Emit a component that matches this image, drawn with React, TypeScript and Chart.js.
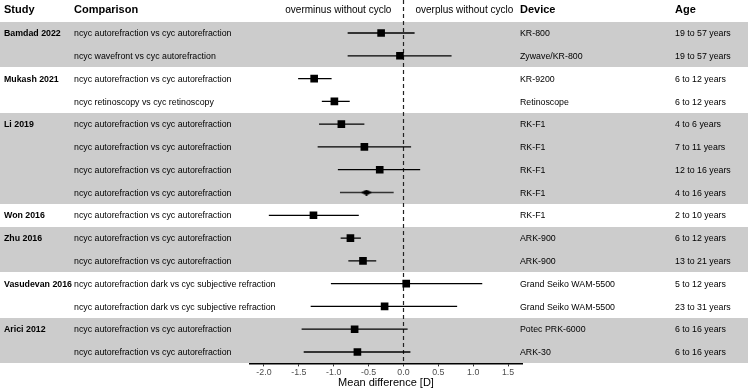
import React, { useEffect, useRef } from 'react';
import { Chart, registerables } from 'chart.js';

Chart.register(...registerables);

const studies = ['Bamdad 2022', '', 'Mukash 2021', '', 'Li 2019', '', '', '', 'Won 2016', 'Zhu 2016', '', 'Vasudevan 2016', '', 'Arici 2012', ''];
const comparisons = [
  'ncyc autorefraction vs cyc autorefraction',
  'ncyc wavefront vs cyc autorefraction',
  'ncyc autorefraction vs cyc autorefraction',
  'ncyc retinoscopy vs cyc retinoscopy',
  'ncyc autorefraction vs cyc autorefraction',
  'ncyc autorefraction vs cyc autorefraction',
  'ncyc autorefraction vs cyc autorefraction',
  'ncyc autorefraction vs cyc autorefraction',
  'ncyc autorefraction vs cyc autorefraction',
  'ncyc autorefraction vs cyc autorefraction',
  'ncyc autorefraction vs cyc autorefraction',
  'ncyc autorefraction dark vs cyc subjective refraction',
  'ncyc autorefraction dark vs cyc subjective refraction',
  'ncyc autorefraction vs cyc autorefraction',
  'ncyc autorefraction vs cyc autorefraction',
];
const devices = ['KR-800', 'Zywave/KR-800', 'KR-9200', 'Retinoscope', 'RK-F1', 'RK-F1', 'RK-F1', 'RK-F1', 'RK-F1', 'ARK-900', 'ARK-900', 'Grand Seiko WAM-5500', 'Grand Seiko WAM-5500', 'Potec PRK-6000', 'ARK-30'];
const ages = ['19 to 57 years', '19 to 57 years', '6 to 12 years', '6 to 12 years', '4 to 6 years', '7 to 11 years', '12 to 16 years', '4 to 16 years', '2 to 10 years', '6 to 12 years', '13 to 21 years', '5 to 12 years', '23 to 31 years', '6 to 16 years', '6 to 16 years'];
const means = [-0.32, -0.05, -1.28, -0.99, -0.89, -0.56, -0.34, -0.53, -1.29, -0.76, -0.58, 0.04, -0.27, -0.70, -0.66];
const lower = [-0.80, -0.80, -1.51, -1.17, -1.21, -1.23, -0.94, -0.91, -1.93, -0.90, -0.79, -1.04, -1.33, -1.46, -1.43];
const upper = [0.16, 0.69, -1.03, -0.77, -0.56, 0.11, 0.24, -0.14, -0.64, -0.61, -0.39, 1.13, 0.77, 0.06, 0.10];
const pooled = [false, false, false, false, false, false, false, true, false, false, false, false, false, false, false];
const shaded = [true, true, false, false, true, true, true, true, false, true, true, false, false, true, true];
const xTicks = [-2, -1.5, -1, -0.5, 0, 0.5, 1, 1.5];

const FONT = '"Liberation Sans", Arial, sans-serif';

export default function App() {
  const ref = useRef<HTMLCanvasElement | null>(null);

  useEffect(() => {
    const canvas = ref.current;
    if (!canvas) return;

    const diamond = document.createElement('canvas');
    diamond.width = 11;
    diamond.height = 6;
    const dctx = diamond.getContext('2d')!;
    dctx.fillStyle = '#000';
    dctx.beginPath();
    dctx.moveTo(0, 3);
    dctx.lineTo(5.5, 0);
    dctx.lineTo(11, 3);
    dctx.lineTo(5.5, 6);
    dctx.closePath();
    dctx.fill();

    const ciDatasets = means.map((_, i) => ({
      type: 'scatter' as const,
      data: [
        { x: lower[i], y: i },
        { x: upper[i], y: i },
      ],
      showLine: true,
      borderColor: pooled[i] ? '#333' : '#000',
      borderWidth: pooled[i] ? 1.5 : 1.3,
      pointRadius: 0,
      pointHoverRadius: 0,
      order: 2,
    }));

    const markerDataset = {
      type: 'scatter' as const,
      data: means.map((m, i) => ({ x: m, y: i })),
      pointStyle: means.map((_, i) => (pooled[i] ? diamond : 'rect')) as any,
      pointRadius: 5.4,
      pointBackgroundColor: '#000',
      pointBorderWidth: 0,
      borderWidth: 0,
      order: 1,
    };

    const decor = {
      id: 'decor',
      beforeDraw(chart: any) {
        const { ctx, width } = chart;
        const ys = chart.scales.y;
        ctx.save();
        ctx.fillStyle = '#ffffff';
        ctx.fillRect(0, 0, width, chart.height);
        ctx.fillStyle = '#cccccc';
        let i = 0;
        while (i < shaded.length) {
          if (!shaded[i]) { i++; continue; }
          let j = i;
          while (j + 1 < shaded.length && shaded[j + 1]) j++;
          const y0 = Math.round(ys.getPixelForValue(i - 0.5));
          const y1 = Math.round(ys.getPixelForValue(j + 0.5));
          ctx.fillRect(0, Math.min(y0, y1), width, Math.abs(y1 - y0));
          i = j + 1;
        }
        ctx.restore();
      },
      beforeDatasetsDraw(chart: any) {
        const { ctx, chartArea } = chart;
        const xs = chart.scales.x;
        const ys = chart.scales.y;
        const x0 = xs.getPixelForValue(0);
        ctx.save();
        // dashed reference line
        ctx.strokeStyle = '#222';
        ctx.lineWidth = 1.2;
        ctx.setLineDash([4, 3]);
        ctx.beginPath();
        ctx.moveTo(Math.round(x0) + 0.5, 0);
        ctx.lineTo(Math.round(x0) + 0.5, chartArea.bottom);
        ctx.stroke();
        ctx.setLineDash([]);

        // header
        ctx.fillStyle = '#000';
        ctx.textBaseline = 'alphabetic';
        ctx.font = `bold 11px ${FONT}`;
        ctx.textAlign = 'left';
        ctx.fillText('Study', 4, 13);
        ctx.fillText('Comparison', 74, 13);
        ctx.fillText('Device', 520, 13);
        ctx.fillText('Age', 675, 13);
        ctx.font = `10px ${FONT}`;
        ctx.textAlign = 'right';
        ctx.fillText('overminus without cyclo', x0 - 12, 13);
        ctx.textAlign = 'left';
        ctx.fillText('overplus without cyclo', x0 + 12, 13);

        // rows
        means.forEach((_, i) => {
          const y = ys.getPixelForValue(i) + 3.2;
          ctx.textAlign = 'left';
          if (studies[i]) {
            ctx.font = `bold 8.8px ${FONT}`;
            ctx.fillText(studies[i], 4, y);
          }
          ctx.font = `8.8px ${FONT}`;
          ctx.fillText(comparisons[i], 74, y);
          ctx.fillText(devices[i], 520, y);
          ctx.fillText(ages[i], 675, y);
        });
        ctx.restore();
      },
    };

    const chart = new Chart(canvas, {
      type: 'scatter',
      data: { datasets: [...ciDatasets, markerDataset] as any },
      options: {
        responsive: false,
        animation: false,
        events: [],
        layout: { padding: { left: 250, right: 226, top: 21.6, bottom: 0 } },
        plugins: {
          legend: { display: false },
          tooltip: { enabled: false },
        },
        scales: {
          x: {
            type: 'linear',
            min: -2.2,
            max: 1.7,
            afterBuildTicks: (scale: any) => {
              scale.ticks = xTicks.map((v) => ({ value: v }));
            },
            afterFit: (scale: any) => {
              scale.height = 27.6;
            },
            grid: {
              display: true,
              drawOnChartArea: false,
              drawTicks: true,
              tickLength: 3,
              color: '#333',
              lineWidth: 1,
            },
            border: { display: true, color: '#000', width: 1.4 },
            ticks: {
              padding: 1,
              color: '#4d4d4d',
              font: { family: FONT, size: 8.8 },
              maxRotation: 0,
              callback: (v: any) => Number(v).toFixed(1),
            },
            title: {
              display: true,
              text: 'Mean difference [D]',
              color: '#000',
              font: { family: FONT, size: 11 },
              padding: { top: 0, bottom: 1 },
            },
          },
          y: {
            type: 'linear',
            display: false,
            reverse: true,
            min: -0.5,
            max: 14.5,
          },
        },
      },
      plugins: [decor],
    });

    return () => chart.destroy();
  }, []);

  return (
    <div style={{ position: 'fixed', left: 0, top: 0, width: 748, height: 391, background: '#fff' }}>
      <canvas ref={ref} width={748} height={391} style={{ display: 'block', width: 748, height: 391 }} />
    </div>
  );
}
